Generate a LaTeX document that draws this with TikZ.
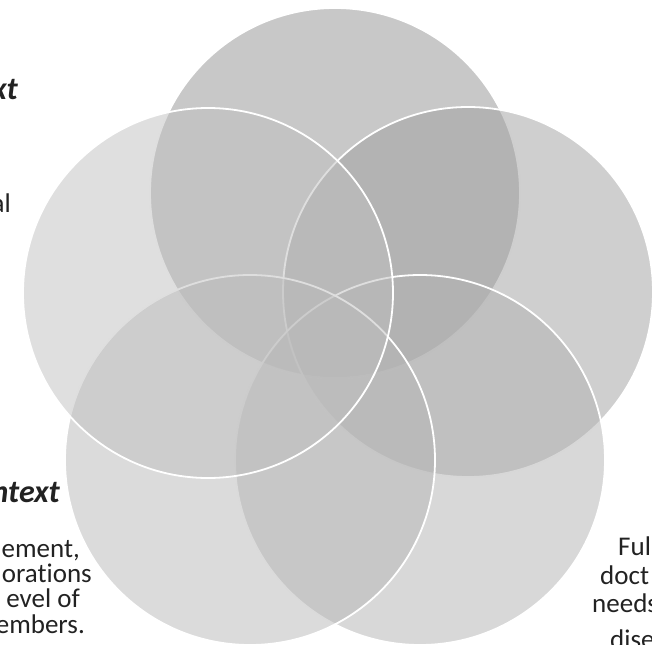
\documentclass[tikz,border=0pt]{standalone}
\usepackage{fontspec}
\setmainfont{Carlito}[Ligatures=CommonOff]
\definecolor{fillA}{HTML}{919191}
\definecolor{fillB}{HTML}{9F9F9F}
\definecolor{fillC}{HTML}{B1B1B1}
\definecolor{fillD}{HTML}{B7B7B7}
\definecolor{fillE}{HTML}{BFBFBF}
\definecolor{ink}{HTML}{222222}
\begin{document}
\begin{tikzpicture}[x=1pt,y=-1pt,
  venn/.style={circle, minimum size=370pt, inner sep=0pt, fill opacity=0.5,
               draw=white, line width=1.8pt},
  head/.style={inner sep=0pt, text=ink, font=\fontsize{32}{38}\selectfont\bfseries\itshape},
  body/.style={inner sep=0pt, text=ink, font=\fontsize{27}{31}\selectfont}]
\useasboundingbox (0,0) rectangle (652,644);

% five overlapping sets, drawn clockwise from the top
\node[venn, fill=fillA] (ctop)   at (335,193) {};
\node[venn, fill=fillB] (cright) at (468,292) {};
\node[venn, fill=fillC] (cbr)    at (420,460) {};
\node[venn, fill=fillD] (cbl)    at (250,460) {};
\node[venn, fill=fillE] (cleft)  at (208,293) {};

% labels running off the left edge
\node[head, anchor=base east] (hA) at (18,100) {xt};
\node[body, anchor=base east] (tA) at (11,212) {al};
\node[head, anchor=base east] (hB) at (60,502) {ntext};
\node[body, anchor=base east] (tB1) at (80,557) {ement,};
\node[body, anchor=base east] (tB2) at (92,582) {orations};
\node[body, anchor=base east] (tB3) at (80,607) {evel of};
\node[body, anchor=base east] (tB4) at (85,633) {embers.};

% labels running off the right edge
\node[body, anchor=base west] (tC1) at (618,555) {Ful};
\node[body, anchor=base west] (tC2) at (600,584) {doct};
\node[body, anchor=base west] (tC3) at (592,612) {needs};
\node[body, anchor=base west] (tC4) at (610,648) {dise};
\end{tikzpicture}
\end{document}
